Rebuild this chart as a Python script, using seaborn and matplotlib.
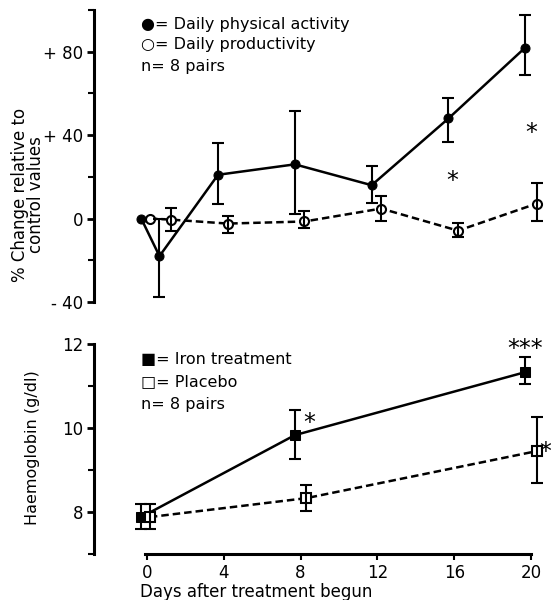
import numpy as np
import pandas as pd
import matplotlib
matplotlib.use("Agg")
import matplotlib.pyplot as plt
import seaborn as sns

# top panel: % change vs control (day positions, slightly staggered)
act_day = [-0.3, 0.65, 3.7, 7.7, 11.7, 15.7, 19.7]
act_val = [0, -18, 21, 26, 16, 48, 82]
act_lo = [np.nan, -37.5, 7, 2, 7.7, 36.5, 69]
act_hi = [np.nan, 0, 36, 51.5, 25, 58, 97.5]

prod_day = [0.15, 1.25, 4.2, 8.2, 12.2, 16.2, 20.3]
prod_val = [0, -0.5, -2.4, -1.4, 4.8, -5.8, 7.2]
prod_lo = [np.nan, -6, -7, -4.6, -1, -9, -1.3]
prod_hi = [np.nan, 5.3, 1.4, 3.4, 10.6, -1.9, 17]

# bottom panel: haemoglobin (g/dl)
iron_day = [-0.3, 7.7, 19.7]
iron_val = [7.88, 9.83, 11.33]
iron_lo = [7.6, 9.26, 11.05]
iron_hi = [8.2, 10.43, 11.7]

plac_day = [0.15, 8.3, 20.3]
plac_val = [7.88, 8.33, 9.45]
plac_lo = [7.6, 8.02, 8.7]
plac_hi = [8.2, 8.64, 10.27]

# significance marks (x, y, label)
top_stars = [(15.9, 18, "*"), (20.0, 41, "*")]
bot_stars = [(8.45, 10.12, "*"), (19.7, 11.88, "***"), (20.75, 9.42, "*")]

sns.set_style("ticks")
plt.rcParams['font.family'] = ['DejaVu Sans']
for k in ("text.color", "axes.edgecolor", "xtick.color", "ytick.color", "axes.labelcolor"):
    plt.rcParams[k] = "black"

fig = plt.figure(figsize=(5.51, 6), dpi=100)
W, H = 551, 600
xlim = (-2.76, 21.04)
ax1 = fig.add_axes([94 / W, 1 - 302 / H, (551 - 94) / W, 292 / H])
ax2 = fig.add_axes([94 / W, 1 - 554 / H, (551 - 94) / W, 210 / H])

lw = 1.8
top = pd.DataFrame({"day": act_day, "val": act_val})
topp = pd.DataFrame({"day": prod_day, "val": prod_val})
sns.lineplot(data=top, x="day", y="val", ax=ax1, color="black", lw=lw, sort=False,
             marker="o", markersize=6.5, markerfacecolor="black", markeredgecolor="black")
sns.lineplot(data=topp, x="day", y="val", ax=ax1, color="black", lw=lw, sort=False,
             linestyle=(0, (3, 1.6)), marker="o", markersize=6.5,
             markerfacecolor="white", markeredgecolor="black", markeredgewidth=1.5)

def bars(ax, d, lo, hi):
    d = np.array(d, float)
    lo = np.array(lo, float)
    hi = np.array(hi, float)
    mid = (lo + hi) / 2
    ok = ~np.isnan(lo)
    ax.errorbar(d[ok], mid[ok], yerr=((hi - lo) / 2)[ok], fmt="none", ecolor="black",
                elinewidth=1.5, capsize=4.5, capthick=1.5)

bars(ax1, act_day, act_lo, act_hi)
bars(ax1, prod_day, prod_lo, prod_hi)

bot = pd.DataFrame({"day": iron_day, "val": iron_val})
botp = pd.DataFrame({"day": plac_day, "val": plac_val})
sns.lineplot(data=bot, x="day", y="val", ax=ax2, color="black", lw=lw, sort=False,
             marker="s", markersize=6.5, markerfacecolor="black", markeredgecolor="black")
sns.lineplot(data=botp, x="day", y="val", ax=ax2, color="black", lw=lw, sort=False,
             linestyle=(0, (3, 1.6)), marker="s", markersize=6.5,
             markerfacecolor="white", markeredgecolor="black", markeredgewidth=1.5)
bars(ax2, iron_day, iron_lo, iron_hi)
bars(ax2, plac_day, plac_lo, plac_hi)

for x, y, s in top_stars:
    ax1.text(x, y, s, fontsize=17, ha="center", va="center")
for x, y, s in bot_stars:
    ax2.text(x, y, s, fontsize=17, ha="center", va="center", clip_on=False)

# axes styling
for ax in (ax1, ax2):
    ax.set_xlim(*xlim)
    ax.set_xlabel("")
    ax.set_ylabel("")
    for sp in ("top", "right"):
        ax.spines[sp].set_visible(False)
    ax.spines["left"].set_linewidth(2.2)
    ax.tick_params(axis="y", which="major", length=5, width=2, labelsize=12, pad=3)
    ax.tick_params(axis="y", which="minor", length=4, width=1.5)

ax1.set_ylim(-40, 100)
ax1.spines["left"].set_bounds(-40, 100)
ax1.spines["bottom"].set_visible(False)
ax1.set_xticks([])
ax1.set_yticks([-40, 0, 40, 80])
ax1.set_yticklabels(["- 40", "0", "+ 40", "+ 80"])
ax1.set_yticks([-20, 20, 60, 100], minor=True)

ax2.set_ylim(7, 12)
ax2.set_yticks([8, 10, 12])
ax2.set_yticks([7, 9, 11], minor=True)
ax2.spines["bottom"].set_bounds(-0.1, 20)
ax2.spines["bottom"].set_linewidth(2.2)
ax2.set_xticks([0, 4, 8, 12, 16, 20])
ax2.tick_params(axis="x", length=4, width=1.5, labelsize=12, pad=3)

# legends as text
ax1.text(-0.3, 93, "\u25cf= Daily physical activity", fontsize=11.5, va="center")
ax1.text(-0.3, 83.5, "\u25cb= Daily productivity", fontsize=11.5, va="center")
ax1.text(-0.3, 73, "n= 8 pairs", fontsize=11.5, va="center")
ax2.text(-0.3, 11.62, "\u25a0= Iron treatment", fontsize=11.5, va="center")
ax2.text(-0.3, 11.1, "\u25a1= Placebo", fontsize=11.5, va="center")
ax2.text(-0.3, 10.57, "n= 8 pairs", fontsize=11.5, va="center")

fig.text(28 / W, 1 - 195 / H, "% Change relative to\ncontrol values", rotation=90,
         ha="center", va="center", fontsize=12, multialignment="center", linespacing=0.9)
fig.text(33 / W, 1 - 448 / H, "Haemoglobin (g/dl)", rotation=90,
         ha="center", va="center", fontsize=11.5)
fig.text(256 / W, 1 - 592 / H, "Days after treatment begun", ha="center", va="center",
         fontsize=12)

fig.savefig("out.png", dpi=100)
